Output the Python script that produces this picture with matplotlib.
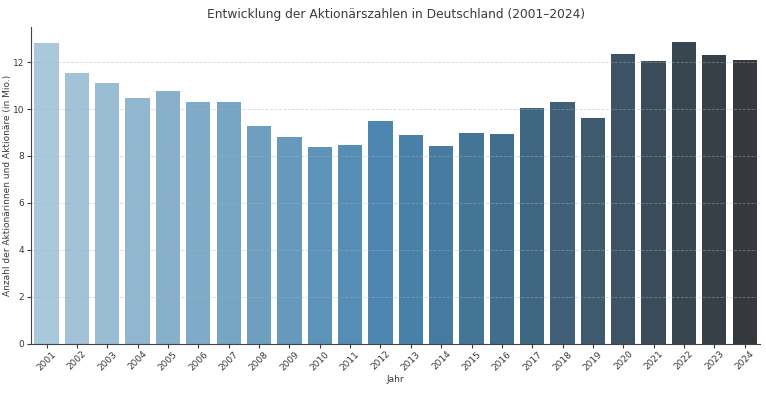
import matplotlib
matplotlib.use('Agg')
import matplotlib.pyplot as plt
import seaborn as sns

years = ['2001', '2002', '2003', '2004', '2005', '2006', '2007', '2008',
         '2009', '2010', '2011', '2012', '2013', '2014', '2015', '2016',
         '2017', '2018', '2019', '2020', '2021', '2022', '2023', '2024']
shareholders = [12.83, 11.52, 11.09, 10.48, 10.77, 10.29, 10.29, 9.28,
                8.80, 8.37, 8.46, 9.47, 8.89, 8.43, 8.98, 8.95,
                10.04, 10.29, 9.63, 12.33, 12.04, 12.86, 12.30, 12.10]

title = 'Entwicklung der Aktionärszahlen in Deutschland (2001–2024)'
x_label = 'Jahr'
y_label = 'Anzahl der Aktionärinnen und Aktionäre (in Mio.)'

text_color = '#3a3a3a'
plt.rcParams['text.color'] = text_color
plt.rcParams['axes.labelcolor'] = text_color
plt.rcParams['xtick.color'] = text_color
plt.rcParams['ytick.color'] = text_color
plt.rcParams['axes.edgecolor'] = '#444444'

fig = plt.figure(figsize=(7.66, 3.93), dpi=100)
ax = fig.add_axes([0.041, 0.125, 0.951, 0.807])

sns.barplot(x=years, y=shareholders, hue=years, palette='Blues_d',
            legend=False, ax=ax)

ax.set_title(title, fontsize=8.8, pad=6)
ax.set_xlabel(x_label, fontsize=6.5, labelpad=2)
ax.set_ylabel(y_label, fontsize=6.5, labelpad=1)
ax.tick_params(axis='x', labelsize=6.5, rotation=45, length=3, pad=1)
ax.tick_params(axis='y', labelsize=6.5, length=3, pad=2)
ax.grid(axis='y', linestyle='--', alpha=0.5, linewidth=0.6)
ax.set_axisbelow(False)
ax.spines['top'].set_visible(False)
ax.spines['right'].set_visible(False)
ax.set_xlim(-0.5, len(years) - 0.5)

fig.savefig('out.png', dpi=100)
